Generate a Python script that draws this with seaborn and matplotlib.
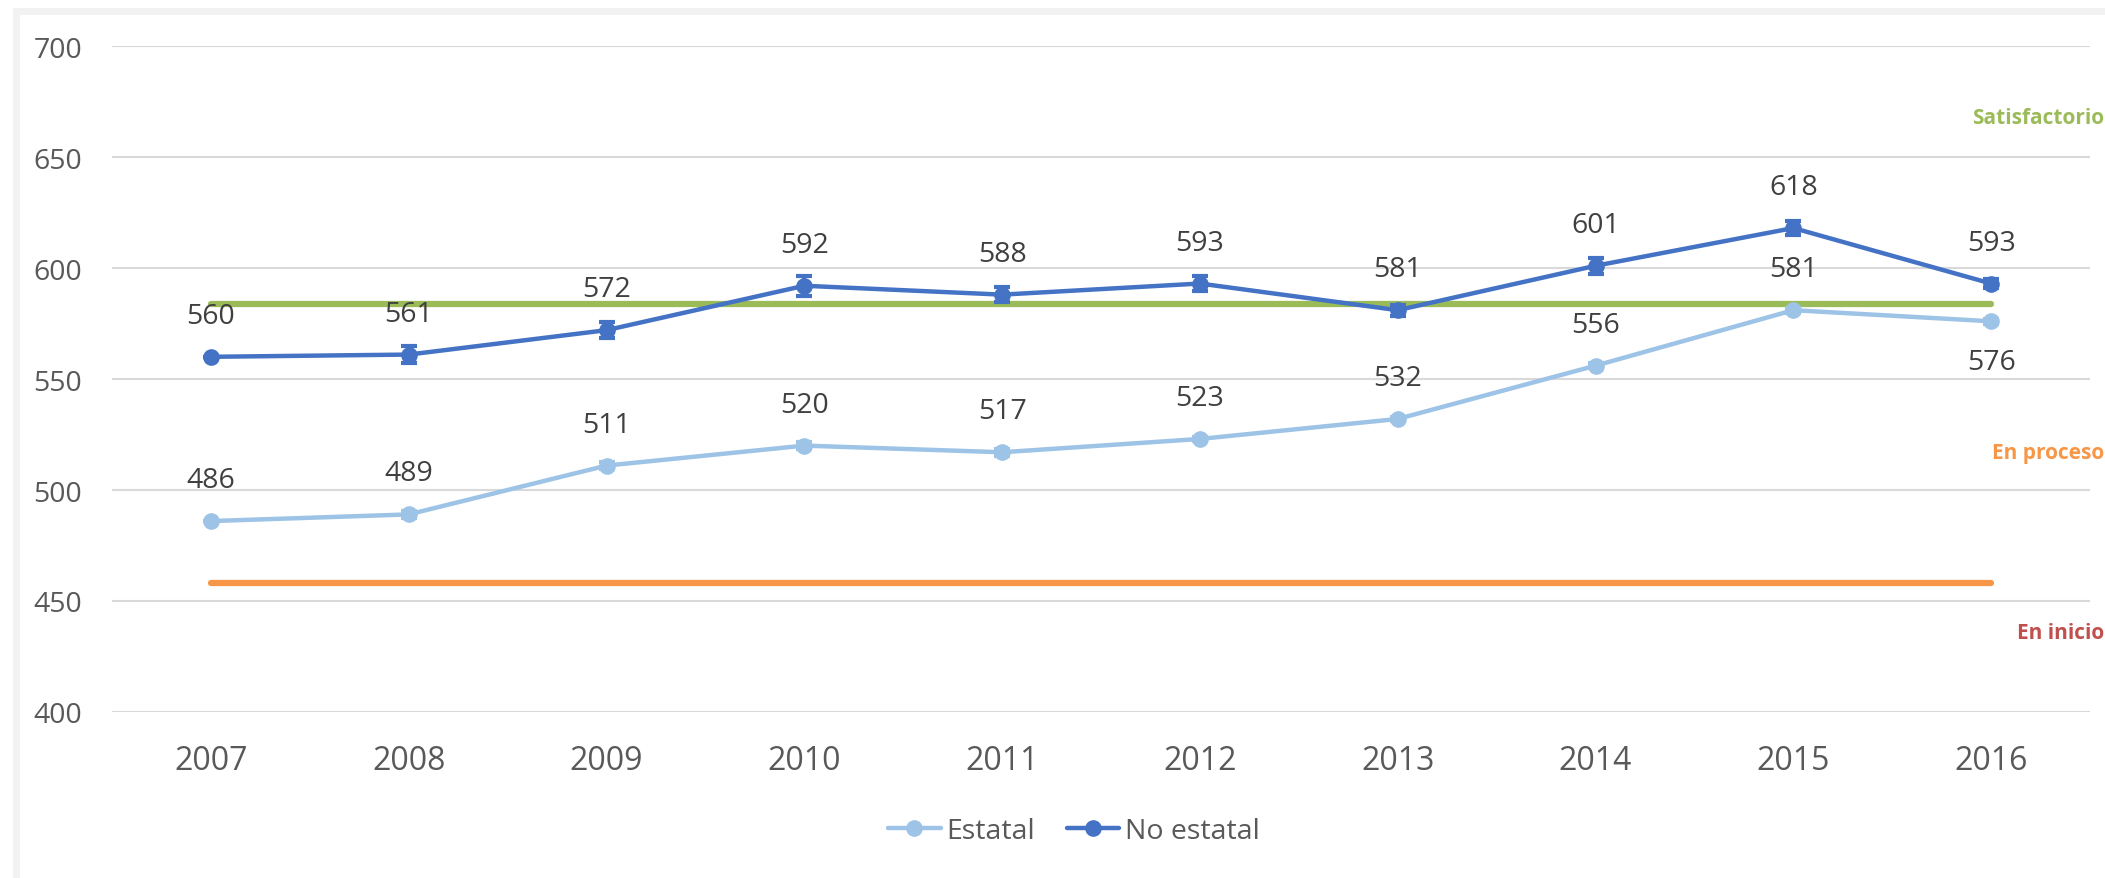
import numpy as np
import pandas as pd
import matplotlib.pyplot as plt
import seaborn as sns
from matplotlib.patches import Rectangle

years = [2007, 2008, 2009, 2010, 2011, 2012, 2013, 2014, 2015, 2016]
estatal = [486, 489, 511, 520, 517, 523, 532, 556, 581, 576]
no_estatal = [560, 561, 572, 592, 588, 593, 581, 601, 618, 593]
estatal_err = [0, 1.5, 1.5, 1.5, 1.5, 1.0, 1.0, 1.2, 1.2, 1.0]
no_estatal_err = [0, 4, 3.5, 4.5, 3.5, 3.5, 2.5, 3.5, 3, 2]

# niveles de logro
satisfactorio_min = 584
en_proceso_min = 458
level_labels = ['Satisfactorio', 'En proceso', 'En inicio']
level_label_y = [668, 517, 436]

c_est = '#9DC3E6'
c_noest = '#4472C4'
c_green = '#9BBB59'
c_orange = '#F79646'
c_red = '#C0504D'

sns.set_style('white')
plt.rcParams['font.family'] = ['Open Sans', 'DejaVu Sans']

df = pd.DataFrame({'year': years, 'Estatal': estatal, 'No estatal': no_estatal})

fig = plt.figure(figsize=(21.05, 8.79), dpi=100)
ax = fig.add_axes([112 / 2105, 1 - 713 / 879, (2090 - 112) / 2105, (713 - 47) / 879])

# light frame around the chart
fig.patches.append(Rectangle((15.5 / 2105, -0.05), 1.1, 1 - 11.5 / 879 + 0.05,
                             transform=fig.transFigure, fill=False,
                             edgecolor='#F2F2F2', linewidth=5.0, clip_on=False))

ax.plot([years[0], years[-1]], [satisfactorio_min] * 2, color=c_green, lw=4.5,
        solid_capstyle='round', zorder=2)
ax.plot([years[0], years[-1]], [en_proceso_min] * 2, color=c_orange, lw=4.5,
        solid_capstyle='round', zorder=2)

for col, err, color in [('Estatal', estatal_err, c_est), ('No estatal', no_estatal_err, c_noest)]:
    sns.lineplot(data=df, x='year', y=col, ax=ax, color=color, lw=3.2, marker='o',
                 markersize=12, markeredgewidth=0, label=col, zorder=3)
    ax.errorbar(df['year'], df[col], yerr=err, fmt='none', ecolor=color,
                elinewidth=3, capsize=6, capthick=3, zorder=3)

for i, (x, y) in enumerate(zip(years, no_estatal)):
    ax.annotate(str(y), (x, y), xytext=(0, 41), textcoords='offset pixels',
                ha='center', va='center', fontsize=20.5, color='#404040')
for i, (x, y) in enumerate(zip(years, estatal)):
    off = -41 if i == len(years) - 1 else 41
    ax.annotate(str(y), (x, y), xytext=(0, off), textcoords='offset pixels',
                ha='center', va='center', fontsize=20.5, color='#404040')

for txt, y, c in zip(level_labels, level_label_y, [c_green, c_orange, c_red]):
    ax.annotate(txt, xy=(1 - 1 / 2105, y), xycoords=('figure fraction', 'data'),
                ha='right', va='center', fontsize=15, fontweight='bold', color=c,
                annotation_clip=False)

ax.set_xlim(2006.5, 2016.5)
ax.set_ylim(400, 700)
ax.set_yticks(range(400, 701, 50))
ax.set_xticks(years)
ax.grid(axis='y', color='#D9D9D9', lw=1.5)
ax.set_axisbelow(True)
ax.tick_params(axis='both', length=0, labelcolor='#595959')
ax.tick_params(axis='x', pad=23, labelsize=23)
ax.tick_params(axis='y', pad=21.5, labelsize=20.5)
ax.set_xlabel('')
ax.set_ylabel('')
sns.despine(ax=ax, left=True, bottom=True)

handles, labels = ax.get_legend_handles_labels()
ax.get_legend().remove()
fig.legend(handles, labels, loc='center', bbox_to_anchor=(1074 / 2105, 1 - 832 / 879),
           ncol=2, frameon=False, fontsize=20.5, labelcolor='#595959',
           handlelength=1.85, columnspacing=1.1, handletextpad=0.2)

fig.savefig('out.png', dpi=100)
